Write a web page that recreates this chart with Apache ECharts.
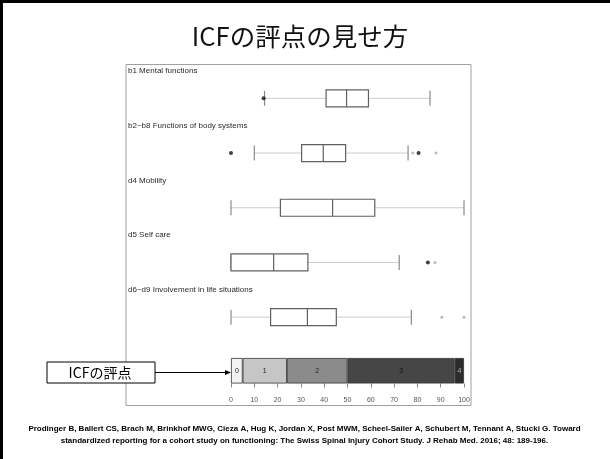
<!DOCTYPE html>
<html>
<head>
<meta charset="utf-8">
<script src="https://cdn.jsdelivr.net/npm/echarts@6/dist/echarts.min.js"></script>
<style>
  html, body { margin: 0; padding: 0; background: #fff; }
  #chart { width: 610px; height: 459px; }
</style>
</head>
<body>
<div id="chart"></div>
<script>
// Domain score rows (0-100 scale)
const domains = [
  'b1 Mental functions',
  'b2~b8 Functions of body systems',
  'd4 Mobility',
  'd5 Self care',
  'd6~d9 Involvement in life situations'
];
const whiskerLow  = [14.4, 10.0, 0.0, 0.0, 0.0];
const quartile1   = [40.8, 30.3, 21.2, 0.0, 17.0];
const medians     = [49.6, 39.6, 43.6, 18.3, 32.8];
const quartile3   = [59.0, 49.2, 61.7, 33.0, 45.2];
const whiskerHigh = [85.4, 76.0, 100.0, 72.2, 77.4];

// Outliers: [score, row index]
const outliersDark  = [[14.0, 0], [0.0, 1], [80.5, 1], [84.5, 3]];
const outliersLight = [[78.0, 1], [88.0, 1], [87.5, 3], [90.5, 4], [100.0, 4]];

// ICF qualifier bands along the 0-100 scale
const qualifierNames  = ['0', '1', '2', '3', '4'];
const qualifierWidths = [5, 19, 26, 46, 4];
const qualifierColors = ['#f3f3f3', '#c6c6c6', '#8b8b8b', '#464646', '#2c2c2c'];
const qualifierText   = ['#222', '#222', '#222', '#151515', '#b5b5b5'];

const axisTicks = { min: 0, max: 100, interval: 10 };

const citation = [
  'Prodinger B, Ballert CS, Brach M, Brinkhof MWG, Cieza A, Hug K, Jordan X, Post MWM, Scheel-Sailer A, Schubert M, Tennant A, Stucki G. Toward',
  'standardized reporting for a cohort study on functioning: The Swiss Spinal Injury Cohort Study. J Rehab Med. 2016; 48: 189-196.'
];

const boxRows = domains.map((_, i) => [i, whiskerLow[i], quartile1[i], medians[i], quartile3[i], whiskerHigh[i]]);

function renderBox(params, api) {
  const row = api.value(0);
  const pLow = api.coord([api.value(1), row]);
  const pQ1 = api.coord([api.value(2), row]);
  const pMed = api.coord([api.value(3), row]);
  const pQ3 = api.coord([api.value(4), row]);
  const pHigh = api.coord([api.value(5), row]);
  const y = pMed[1];
  const bh = 8.5, ch = 7.5;
  const whiskerStyle = { stroke: '#cdcdcd', lineWidth: 1 };
  const capStyle = { stroke: '#8a8a8a', lineWidth: 1.2 };
  const boxStyle = { stroke: '#606060', lineWidth: 1.2, fill: '#fff' };
  return {
    type: 'group',
    children: [
      { type: 'line', shape: { x1: pLow[0], y1: y, x2: pQ1[0], y2: y }, style: whiskerStyle },
      { type: 'line', shape: { x1: pQ3[0], y1: y, x2: pHigh[0], y2: y }, style: whiskerStyle },
      { type: 'line', shape: { x1: pLow[0], y1: y - ch, x2: pLow[0], y2: y + ch }, style: capStyle },
      { type: 'line', shape: { x1: pHigh[0], y1: y - ch, x2: pHigh[0], y2: y + ch }, style: capStyle },
      { type: 'rect', shape: { x: pQ1[0], y: y - bh, width: pQ3[0] - pQ1[0], height: bh * 2 }, style: boxStyle },
      { type: 'line', shape: { x1: pMed[0], y1: y - bh, x2: pMed[0], y2: y + bh }, style: { stroke: '#606060', lineWidth: 1.2 } }
    ]
  };
}

const labelFont = 'Liberation Sans, Arial, sans-serif';
const rowLabelTops = [67, 122, 176.5, 231, 286];

const graphics = [
  // slide frame (left and top edges)
  { type: 'line', shape: { x1: 1.5, y1: 0, x2: 1.5, y2: 459 }, style: { stroke: '#000', lineWidth: 3 } },
  { type: 'line', shape: { x1: 0, y1: 1.5, x2: 610, y2: 1.5 }, style: { stroke: '#000', lineWidth: 3 } },
  // figure panel border
  { type: 'rect', shape: { x: 126, y: 64.5, width: 345, height: 341 }, style: { fill: 'none', stroke: '#a0a0a0', lineWidth: 1 }, z: 0 },
  // callout box and arrow
  { type: 'rect', shape: { x: 47, y: 362, width: 108, height: 21 }, style: { fill: '#fff', stroke: '#000', lineWidth: 1 } },
  { type: 'text', x: 100, y: 372.5, style: { text: 'ICFの評点', fill: '#000', font: '14px "Noto Sans CJK JP", sans-serif', align: 'center', verticalAlign: 'middle' } },
  { type: 'line', shape: { x1: 155, y1: 372.5, x2: 226, y2: 372.5 }, style: { stroke: '#000', lineWidth: 1 } },
  { type: 'polygon', shape: { points: [[231, 372.5], [225, 370], [225, 375]] }, style: { fill: '#000' } },
  // slide heading
  { type: 'text', x: 300, y: 36, style: { text: 'ICFの評点の見せ方', fill: '#111', font: '25.5px "Noto Sans CJK JP", sans-serif', align: 'center', verticalAlign: 'middle' } }
];
domains.forEach((name, i) => {
  graphics.push({ type: 'text', x: 128, y: rowLabelTops[i], style: { text: name, fill: '#2a2a2a', font: '8px ' + labelFont } });
});
citation.forEach((line, i) => {
  graphics.push({ type: 'text', x: 304.5, y: 428.5 + i * 12.5, style: { text: line, fill: '#000', font: 'bold 8px ' + labelFont, align: 'center', verticalAlign: 'middle' } });
});

const chart = echarts.init(document.getElementById('chart'), null, { renderer: 'canvas' });
chart.setOption({
  animation: false,
  backgroundColor: '#fff',
  grid: [
    { left: 231, right: 146, top: 71, height: 273.5 },
    { left: 231, right: 146, top: 358, height: 25.5 }
  ],
  xAxis: [
    { gridIndex: 0, type: 'value', min: axisTicks.min, max: axisTicks.max, interval: axisTicks.interval, show: false },
    {
      gridIndex: 1, type: 'value', min: axisTicks.min, max: axisTicks.max, interval: axisTicks.interval,
      axisLine: { show: false },
      axisTick: { show: true, length: 4, lineStyle: { color: '#8a8a8a' } },
      splitLine: { show: false },
      axisLabel: { margin: 13, fontSize: 7, color: '#555', fontFamily: labelFont }
    }
  ],
  yAxis: [
    { gridIndex: 0, type: 'category', data: domains, inverse: true, show: false },
    { gridIndex: 1, type: 'category', data: ['ICF'], show: false }
  ],
  series: [
    {
      type: 'custom', xAxisIndex: 0, yAxisIndex: 0,
      renderItem: renderBox,
      encode: { x: [1, 2, 3, 4, 5], y: 0 },
      data: boxRows
    },
    {
      type: 'scatter', xAxisIndex: 0, yAxisIndex: 0, symbolSize: 4,
      itemStyle: { color: '#111' }, data: outliersDark
    },
    {
      type: 'scatter', xAxisIndex: 0, yAxisIndex: 0, symbolSize: 3,
      itemStyle: { color: '#aaa' }, data: outliersLight
    }
  ].concat(qualifierNames.map((name, i) => ({
    type: 'bar', name: name, stack: 'qualifier', xAxisIndex: 1, yAxisIndex: 1,
    barWidth: '100%',
    data: [qualifierWidths[i]],
    itemStyle: { color: qualifierColors[i], borderColor: '#333', borderWidth: 0.8 },
    label: { show: true, position: 'inside', formatter: name, fontSize: 7, color: qualifierText[i], fontFamily: labelFont }
  }))),
  graphic: graphics
});
</script>
</body>
</html>
